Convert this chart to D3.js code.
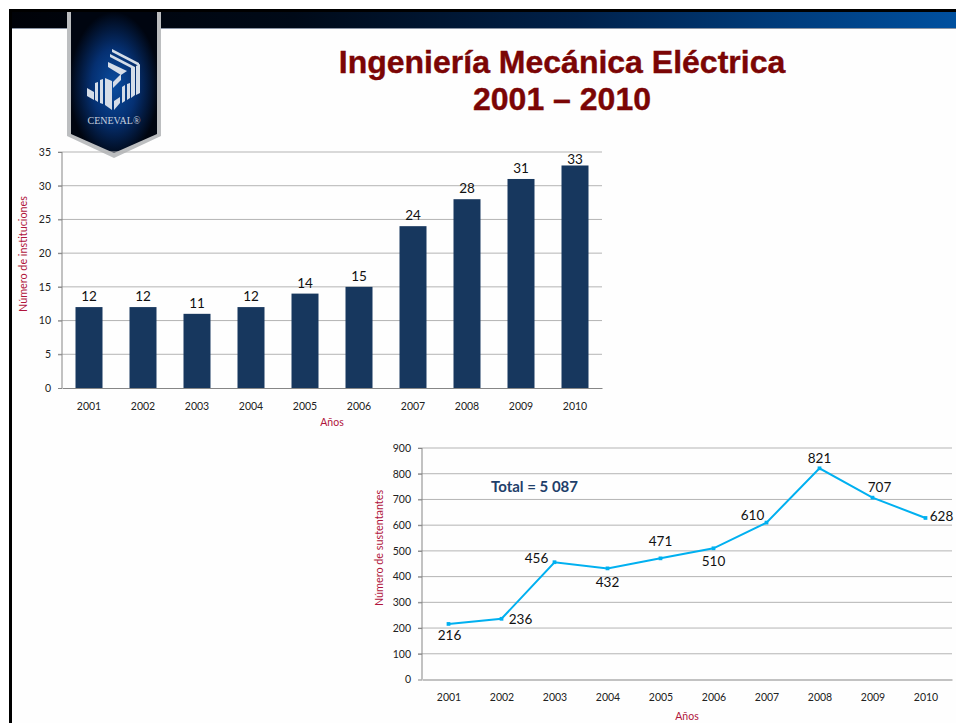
<!DOCTYPE html>
<html><head><meta charset="utf-8">
<script src="https://cdn.jsdelivr.net/npm/d3@7"></script>
<style>
html,body{margin:0;padding:0;background:#fff;overflow:hidden}
svg{display:block}
text{font-family:Lato,"Open Sans",sans-serif}
</style></head><body>
<svg id="c" width="956" height="723"></svg>
<script>
const years = ["2001","2002","2003","2004","2005","2006","2007","2008","2009","2010"];
const instituciones = [12,12,11,12,14,15,24,28,31,33];
const sustentantes = [216,236,456,432,471,510,610,821,707,628];
const barTicks = [0,5,10,15,20,25,30,35];
const lineTicks = [0,100,200,300,400,500,600,700,800,900];
const titleLines = ["Ingeniería Mecánica Eléctrica","2001 – 2010"];
const totalLabel = "Total = 5 087";
const barYTitle = "Número de instituciones";
const lineYTitle = "Número de sustentantes";
const xTitle = "Años";
// label nudges relative to each point, as in the reference
const lineLabelDx = [1,19,-18,0,0,0,-14,0,7,16];
const lineLabelDy = [16,5,1,19,-12,18,-3,-5,-6,3];

const svg = d3.select("#c");
const defs = svg.append("defs");
const hdr = defs.append("linearGradient").attr("id","hdr");
[[0,"#000208"],[0.3,"#000a18"],[0.6,"#00214a"],[0.8,"#003a78"],[1,"#00509f"]].forEach(s=>hdr.append("stop").attr("offset",s[0]).attr("stop-color",s[1]));
const pen = defs.append("radialGradient").attr("id","pen").attr("cx","50%").attr("cy","52%").attr("r","52%");
[[0,"#0a4da0"],[0.5,"#053072"],[1,"#000510"]].forEach(s=>pen.append("stop").attr("offset",s[0]).attr("stop-color",s[1]));

// slide frame
svg.append("rect").attr("x",9).attr("y",9).attr("width",947).attr("height",714).attr("fill","#fefefe");
svg.append("rect").attr("x",9).attr("y",9).attr("width",947).attr("height",3).attr("fill","#000");
svg.append("rect").attr("x",9).attr("y",12).attr("width",947).attr("height",16).attr("fill","url(#hdr)");
svg.append("rect").attr("x",9).attr("y",28).attr("width",947).attr("height",1).attr("fill","#8a94a4");
svg.append("rect").attr("x",9).attr("y",9).attr("width",3).attr("height",714).attr("fill","#000");

// pennant
svg.append("path").attr("d","M67,12H161V136L114,158L67,136Z").attr("fill","#bcbec0");
svg.append("path").attr("d","M71,12H157V134L114,153L71,134Z").attr("fill","url(#pen)");
const logo = svg.append("g").attr("fill","#d5dde8");
["M112,49L139,63L139,66L112,52Z","M110,54L135,67L135,70L110,57Z","M108,62L127,71L121,75L108,67Z",
 "M105,78L112,81L112,110L105,105Z","M113,82L121,74L121,80L113,88Z","M131,67L135,69L135,95L131,98Z","M136,66L140,64L140,93L136,95Z",
 "M87,88L94,92L94,100L87,96Z","M95,83L98,82L98,102L95,100Z","M100,80L103,79L103,104L100,103Z",
 "M114,101L120,97L120,103L114,110Z","M122,87L125,85L125,101L122,103Z","M127,84L130,83L130,98L127,100Z"]
 .forEach(d=>logo.append("path").attr("d",d));
svg.append("text").attr("x",114).attr("y",124).attr("text-anchor","middle").attr("fill","#c9d2de")
  .style("font-family","Liberation Serif").style("font-size","10px").text("CENEVAL®");

// title
svg.append("g").selectAll("text").data(titleLines).join("text")
  .attr("x",562).attr("y",(d,i)=>73+i*37).attr("text-anchor","middle")
  .attr("fill","#7b0505").attr("stroke","#7b0505").attr("stroke-width",0.4)
  .style("font-family","Liberation Sans").style("font-weight","700").style("font-size","32px").text(d=>d);

function frame(g,x,y,ticks,yTitle,titleX,titleY,xTitleY,padB){
  const [x0,x1]=x.range();
  g.append("g").selectAll("line").data(ticks.filter(t=>t>0)).join("line")
    .attr("x1",x0-4).attr("x2",x1).attr("y1",y).attr("y2",y).attr("stroke","#b4b4b4").attr("stroke-width",1);
  const ax=g.append("g").attr("transform",`translate(${x0},0)`).call(d3.axisLeft(y).tickValues(ticks).tickSize(4).tickPadding(7).tickFormat(d3.format("d")));
  ax.selectAll("line,path").attr("stroke","#868686");
  ax.select("path").attr("d",`M0,${y.range()[0]}V${y.range()[1]}`);
  ax.selectAll("text").attr("fill","#222").style("font-size","10.5px").style("font-family","Lato");
  const bx=g.append("g").attr("transform",`translate(0,${y.range()[0]})`).call(d3.axisBottom(x).tickSize(0).tickPadding(padB));
  bx.selectAll("path").attr("stroke","#868686");
  bx.selectAll("text").attr("fill","#222").style("font-size","10.5px").style("font-family","Lato");
  g.append("text").attr("x",(x0+x1)/2).attr("y",xTitleY).attr("text-anchor","middle").attr("fill","#b0153c").style("font-size","10.5px").text(xTitle);
  g.append("text").attr("transform",`translate(${titleX},${titleY}) rotate(-90)`).attr("text-anchor","middle").attr("fill","#b0153c").style("font-size","10.8px").text(yTitle);
}

// bar chart
const bx = d3.scaleBand().domain(years).range([62,602]).paddingInner(0.5).paddingOuter(0.25);
const by = d3.scaleLinear().domain([0,35]).range([388,152]);
const g1 = svg.append("g");
frame(g1,bx,by,barTicks,barYTitle,27,254,426,15);
g1.append("g").selectAll("rect").data(years).join("rect")
  .attr("x",d=>bx(d)).attr("width",bx.bandwidth())
  .attr("y",(d,i)=>by(instituciones[i])).attr("height",(d,i)=>by(0)-by(instituciones[i])).attr("fill","#17375e");
g1.append("g").selectAll("text").data(years).join("text")
  .attr("x",d=>bx(d)+bx.bandwidth()/2).attr("y",(d,i)=>Math.max(by(instituciones[i])-6,164)).attr("text-anchor","middle")
  .attr("fill","#111").style("font-size","13.5px").text((d,i)=>instituciones[i]);

// line chart
const lx = d3.scalePoint().domain(years).range([422,952]).padding(0.5);
const ly = d3.scaleLinear().domain([0,900]).range([679.5,448]);
const g2 = svg.append("g");
frame(g2,lx,ly,lineTicks,lineYTitle,383,548,720,14);
g2.append("path").datum(sustentantes).attr("fill","none").attr("stroke","#00b0f0").attr("stroke-width",2)
  .attr("d",d3.line().x((d,i)=>lx(years[i])).y(d=>ly(d)));
g2.append("g").selectAll("path").data(sustentantes).join("path")
  .attr("transform",(d,i)=>`translate(${lx(years[i])},${ly(d)})`)
  .attr("d",d3.symbol(d3.symbolSquare,14)).attr("fill","#00b0f0");
g2.append("g").selectAll("text").data(sustentantes).join("text")
  .attr("x",(d,i)=>lx(years[i])+lineLabelDx[i])
  .attr("y",(d,i)=>ly(d)+lineLabelDy[i])
  .attr("text-anchor","middle")
  .attr("fill","#111").style("font-size","13.5px").text(d=>d);
g2.append("text").attr("x",491).attr("y",492).attr("fill","#1f3f6a").style("font-weight","700").style("font-size","15px").text(totalLabel);
</script>
</body></html>
